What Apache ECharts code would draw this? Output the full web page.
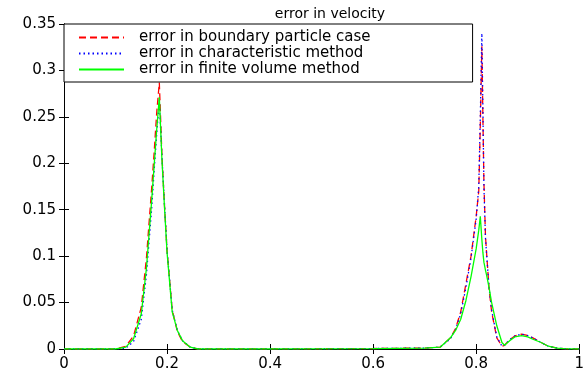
<!DOCTYPE html>
<html>
<head>
<meta charset="utf-8">
<script src="https://cdn.jsdelivr.net/npm/echarts@6/dist/echarts.min.js"></script>
<style>html,body{margin:0;padding:0;background:#fff}#c{width:587px;height:372px}</style>
</head>
<body>
<div id="c"></div>
<script>
var titleText = 'error in velocity';
var seriesNames = ['error in boundary particle case', 'error in characteristic method', 'error in finite volume method'];
var xTicks = [0, 0.2, 0.4, 0.6, 0.8, 1];
var yTicks = [0, 0.05, 0.1, 0.15, 0.2, 0.25, 0.3, 0.35];

var X = [0, 0.05, 0.10, 0.12, 0.135, 0.15, 0.16, 0.17, 0.175, 0.18, 0.185, 0.19, 0.195, 0.20, 0.21, 0.22, 0.23, 0.245, 0.26, 0.40, 0.60,
         0.70, 0.73, 0.75, 0.76, 0.77, 0.78, 0.79, 0.80, 0.805, 0.808, 0.811, 0.813, 0.815, 0.818, 0.82, 0.825, 0.83, 0.84, 0.85,
         0.855, 0.865, 0.875, 0.888, 0.90, 0.91, 0.926, 0.94, 0.957, 0.97, 1.0];

var redY = [0, 0, 0, 0.003, 0.014, 0.045, 0.098, 0.172, 0.212, 0.255, 0.287, 0.210, 0.155, 0.106, 0.042, 0.019, 0.008, 0.002, 0, 0, 0.0005,
            0.001, 0.002, 0.012, 0.022, 0.040, 0.070, 0.100, 0.143, 0.17, 0.24, 0.326, 0.25, 0.18, 0.122, 0.105, 0.065, 0.040, 0.012, 0.003,
            0.004, 0.010, 0.014, 0.016, 0.0145, 0.012, 0.007, 0.003, 0.001, 0.0003, 0];

var blueY = [0, 0, 0, 0.001, 0.008, 0.032, 0.080, 0.150, 0.192, 0.232, 0.268, 0.208, 0.156, 0.107, 0.042, 0.020, 0.009, 0.002, 0, 0, 0.0005,
             0.001, 0.002, 0.011, 0.021, 0.038, 0.066, 0.098, 0.140, 0.175, 0.25, 0.340, 0.26, 0.175, 0.12, 0.104, 0.066, 0.042, 0.013, 0.003,
             0.004, 0.010, 0.014, 0.016, 0.0145, 0.012, 0.007, 0.003, 0.001, 0.0003, 0];

var greenY = [0, 0, 0, 0.002, 0.011, 0.038, 0.087, 0.159, 0.198, 0.237, 0.271, 0.205, 0.153, 0.104, 0.040, 0.020, 0.009, 0.002, 0, 0, 0.0005,
              0.001, 0.002, 0.012, 0.020, 0.032, 0.052, 0.078, 0.108, 0.128, 0.143, 0.118, 0.104, 0.0935, 0.085, 0.080, 0.066, 0.050, 0.025, 0.007,
              0.004, 0.009, 0.013, 0.0143, 0.013, 0.0105, 0.007, 0.003, 0.001, 0.0003, 0];

function pairs(ys) { return X.map(function (x, i) { return [x, ys[i]]; }); }

var FONT = 'DejaVu Sans';
var chart = echarts.init(document.getElementById('c'), null, {renderer: 'canvas'});
var axisCommon = {
  axisLine: {show: true, lineStyle: {color: '#000', width: 1}},
  axisTick: {show: true, inside: true, length: 5, lineStyle: {color: '#000'}},
  splitLine: {show: false}
};
chart.setOption({
  backgroundColor: '#fff',
  animation: false,
  title: {text: titleText, left: 325, top: 2, textAlign: 'center',
          textStyle: {fontFamily: FONT, fontSize: 14, fontWeight: 'normal', color: '#000'}},
  grid: {left: 64, right: -2, top: 24, bottom: 22, containLabel: false},
  legend: {
    orient: 'vertical', left: 64, top: 24,
    padding: [6, 102, 5, 14],
    itemWidth: 45, itemHeight: 14, itemGap: 1,
    backgroundColor: '#fff', borderColor: '#000', borderWidth: 1, borderRadius: 0,
    itemStyle: {opacity: 0, borderWidth: 0},
    textStyle: {fontFamily: FONT, fontSize: 15, color: '#000', padding: [0, 0, 0, 10]},
    data: seriesNames
  },
  xAxis: [
    Object.assign({type: 'value', min: xTicks[0], max: xTicks[xTicks.length - 1], interval: 0.2, position: 'bottom',
      axisLabel: {color: '#000', fontFamily: FONT, fontSize: 15, margin: 8,
        formatter: function (v) { return xTicks.indexOf(+v.toFixed(2)) >= 0 ? String(+v.toFixed(2)) : ''; }}}, axisCommon),
    Object.assign({type: 'value', min: 0, max: 1, interval: 0.2, position: 'top', axisLabel: {show: false}}, axisCommon)
  ],
  yAxis: [
    Object.assign({type: 'value', min: yTicks[0], max: yTicks[yTicks.length - 1], interval: 0.05, position: 'left',
      axisLabel: {color: '#000', fontFamily: FONT, fontSize: 15, margin: 8,
        formatter: function (v) { return String(+v.toFixed(2)); }}}, axisCommon),
    Object.assign({type: 'value', min: 0, max: 0.35, interval: 0.05, position: 'right', axisLabel: {show: false}}, axisCommon)
  ],
  series: [
    {name: seriesNames[0], type: 'line', data: pairs(redY), showSymbol: false, symbol: 'none',
     lineStyle: {color: '#ff0000', width: 1.3, type: [7, 4]}, itemStyle: {color: '#ff0000'}, z: 2},
    {name: seriesNames[1], type: 'line', data: pairs(blueY), showSymbol: false, symbol: 'none',
     lineStyle: {color: '#0000ff', width: 1.3, type: [1.5, 3]}, itemStyle: {color: '#0000ff'}, z: 3},
    {name: seriesNames[2], type: 'line', data: pairs(greenY), showSymbol: false, symbol: 'none',
     lineStyle: {color: '#00ff00', width: 1.3, type: 'solid'}, itemStyle: {color: '#00ff00'}, z: 4}
  ]
});
</script>
</body>
</html>
